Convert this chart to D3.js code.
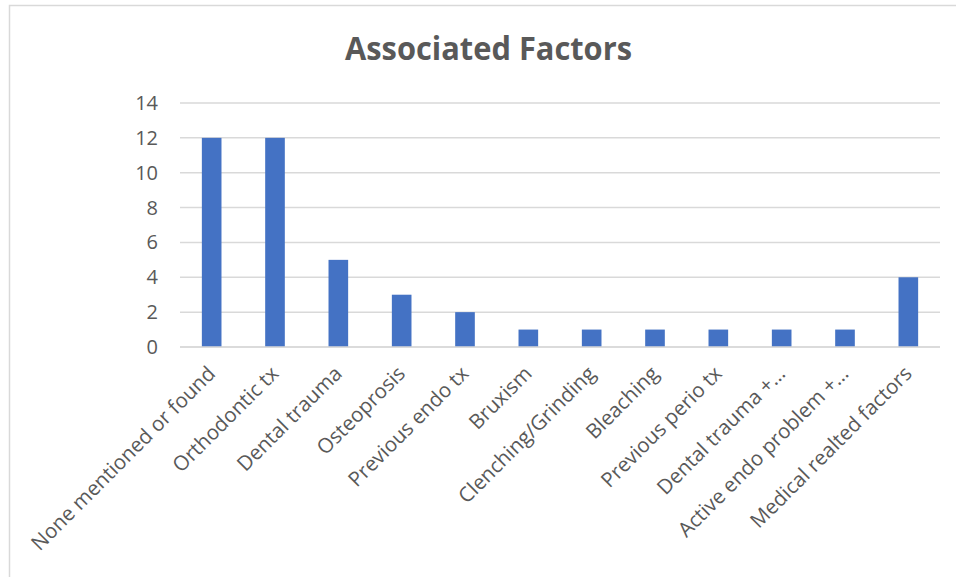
<!DOCTYPE html>
<html>
<head>
<meta charset="utf-8">
<script src="https://cdn.jsdelivr.net/npm/d3@7"></script>
<style>
  body { margin: 0; background: #fff; }
  .tick-label { font-family: "Open Sans", sans-serif; font-size: 20px; fill: #595959; }
  .cat-label { font-family: "Open Sans", sans-serif; font-size: 20.5px; fill: #595959; }
  .grid-line { stroke: #d9d9d9; stroke-width: 1.5; }
</style>
</head>
<body>
<div id="chart"></div>
<script>
const categories = [
  'None mentioned or found', 'Orthodontic tx', 'Dental trauma', 'Osteoprosis',
  'Previous endo tx', 'Bruxism', 'Clenching/Grinding', 'Bleaching',
  'Previous perio tx', 'Dental trauma +…', 'Active endo problem +…', 'Medical realted factors'
]
const values = [12, 12, 5, 3, 2, 1, 1, 1, 1, 1, 1, 4]
const yTicks = [0, 2, 4, 6, 8, 10, 12, 14]
const title = 'Associated Factors'

const width = 956, height = 577

const svg = d3.select('#chart').append('svg')
  .attr('width', width).attr('height', height)

// chart frame (cropped at right and bottom)
svg.append('path')
  .attr('d', 'M9.5,' + (height + 2) + ' L9.5,5.5 L' + (width + 2) + ',5.5')
  .attr('fill', 'none').attr('stroke', '#d9d9d9').attr('stroke-width', 1.5)

svg.append('text')
  .attr('x', 488.5).attr('y', 60)
  .attr('text-anchor', 'middle')
  .attr('textLength', 287).attr('lengthAdjust', 'spacingAndGlyphs')
  .style('font-family', '"Open Sans", sans-serif')
  .style('font-weight', 700).style('font-size', '32px').style('fill', '#595959')
  .text(title)

const scaleX = d3.scaleBand().domain(categories).range([180, 940]).paddingInner(0.69).paddingOuter(0.345)
const scaleY = d3.scaleLinear().domain([0, 14]).range([347, 103])

let grid = svg.append('g')
grid.selectAll('line')
  .data(yTicks)
  .enter()
  .append('line')
  .attr('class', 'grid-line')
  .attr('x1', 180).attr('x2', 940)
  .attr('y1', d => scaleY(d)).attr('y2', d => scaleY(d))

let yLabels = svg.append('g')
yLabels.selectAll('text')
  .data(yTicks)
  .enter()
  .append('text')
  .attr('class', 'tick-label')
  .attr('x', 158).attr('y', d => scaleY(d))
  .attr('dy', '0.35em')
  .attr('text-anchor', 'end')
  .text(d => d)

svg.append('g').selectAll('rect')
  .data(values)
  .enter()
  .append('rect')
  .attr('x', (d, i) => scaleX(categories[i]))
  .attr('y', d => scaleY(d))
  .attr('width', scaleX.bandwidth())
  .attr('height', d => scaleY(0) - scaleY(d))
  .attr('fill', '#4472c4')

// redraw baseline over bars
svg.append('line').attr('class', 'grid-line')
  .attr('x1', 180).attr('x2', 940)
  .attr('y1', scaleY(0)).attr('y2', scaleY(0))

let xLabels = svg.append('g')
xLabels.selectAll('text')
  .data(categories)
  .enter()
  .append('text')
  .attr('class', 'cat-label')
  .attr('text-anchor', 'end')
  .attr('transform', d => 'translate(' + (scaleX(d) + scaleX.bandwidth() / 2 - 6) + ',364) rotate(-45)')
  .attr('dy', '0.75em')
  .text(d => d)
</script>
</body>
</html>
